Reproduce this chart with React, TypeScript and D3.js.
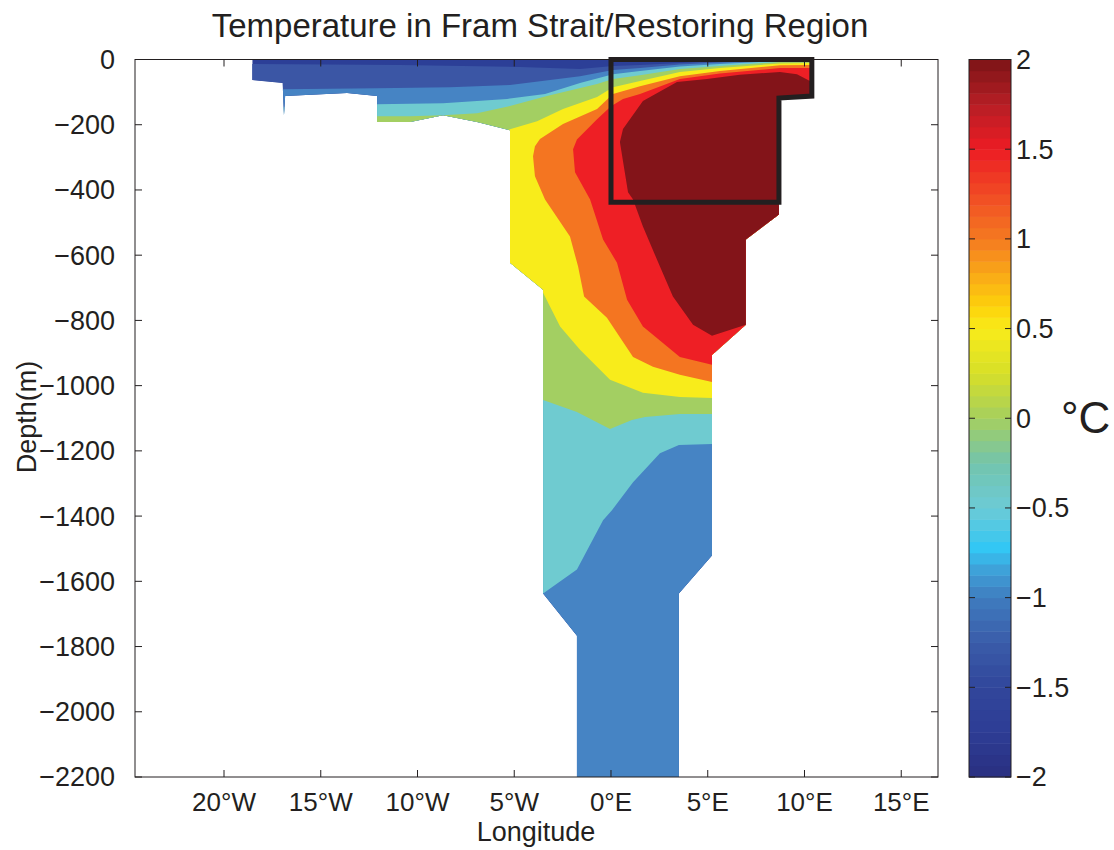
import React from 'react';
import * as d3 from 'd3';

type Pt = [number, number];

// axes
const lonDomain = [-24.6, 16.9];
const depthDomain = [0, -2200];
const lonTicks = [-20, -15, -10, -5, 0, 5, 10, 15];
const lonTickLabels = ['20°W', '15°W', '10°W', '5°W', '0°E', '5°E', '10°E', '15°E'];
const depthTicks = [0, -200, -400, -600, -800, -1000, -1200, -1400, -1600, -1800, -2000, -2200];

// colorbar
const cbarTicks = [2, 1.5, 1, 0.5, 0, -0.5, -1, -1.5, -2];
const cbarStops = [-2, -1.75, -1.5, -1.25, -1, -0.85, -0.72, -0.5, -0.25, 0, 0.25, 0.5, 0.62, 0.75, 1, 1.25, 1.5, 1.75, 2];
const cbarColors = ['#292f80', '#2d3d95', '#31469b', '#3a5ca9', '#3f7cbf', '#3fa0d8', '#33c7f4', '#6ccbd6', '#73c4ad', '#a5cf5f',
  '#d7df28', '#f8ec1a', '#fdd20a', '#fbb515', '#f47a20', '#f04a24', '#ed1c24', '#b61e25', '#7c1416'];

// filled contour bands: below -1.5, then regions above each level
const bandColors = ['#2c3f97', '#3b56a5', '#4684c4', '#6fcbd0', '#a3cf62', '#f8ec1b', '#f47521', '#ee1f25', '#831419'];

// ocean section (lon, depth)
const ocean: Pt[] = [[-18.54, 0], [10.33, 0], [10.33, -112], [8.68, -118], [8.68, -475], [6.97, -552], [6.97, -813], [5.22, -906],
  [5.22, -1521], [3.51, -1637], [3.51, -2200], [-1.76, -2200], [-1.76, -1767], [-3.51, -1637], [-3.51, -706], [-5.22, -623],
  [-5.22, -217], [-6.92, -192], [-8.68, -171], [-10.38, -192], [-12.09, -192], [-12.09, -112], [-13.64, -103], [-16.84, -112],
  [-16.9, -170], [-16.97, -72], [-18.54, -63]];

const aboveM15: Pt[] = [[-19.7, -14], [-18.54, -14], [-10.9, -17], [-4.7, -23], [-1.6, -29], [0.1, -20], [1.5, -17], [3.56, -11],
  [5.63, -4.6], [8.73, -1.5], [10.33, -1.5], [11.3, -1], [11.3, -2300], [-19.7, -2300]];

const aboveM1: Pt[] = [[-19.2, -106], [-16.94, -91], [-12.09, -88], [-8.32, -85], [-5.22, -78], [-1.6, -51], [0.1, -32], [1.5, -26],
  [3.56, -15], [5.63, -9], [8.73, -3], [10.33, -2.2], [11.3, -2.2], [11.3, -2300], [-19.2, -2300]];

const aboveM05: Pt[] = [[-19.2, -152], [-16.94, -146], [-12.09, -137], [-8.68, -134], [-5.37, -121], [-3.41, -106], [-1.6, -72],
  [0.1, -45], [1.5, -35], [3.56, -21.5], [5.63, -14], [8.73, -4.6], [10.33, -4.6], [11.3, -4.6], [11.3, -1179], [5.22, -1179],
  [3.51, -1182], [2.53, -1207], [1.14, -1296], [0.05, -1382], [-0.41, -1413], [-1.76, -1564], [-3.51, -1637], [-5.73, -1637],
  [-5.73, -245], [-19.2, -245]];

const above0: Pt[] = [[-12.96, -174], [-10.38, -174], [-8.68, -171], [-6.92, -165], [-5.27, -143], [-3.31, -112], [-0.72, -75],
  [0.1, -60], [1.5, -48], [3.56, -29], [5.63, -20], [8.73, -7.7], [10.33, -7.7], [11.3, -7.7], [11.3, -1087], [5.22, -1087],
  [3.56, -1087], [1.76, -1096], [1.08, -1105], [-0.05, -1133], [-1.76, -1081], [-3.51, -1044], [-5.73, -1044], [-5.73, -245],
  [-12.96, -245]];

const above05: Pt[] = [[-5.73, -229], [-5.22, -214], [-3.82, -189], [-2.48, -152], [-0.72, -115], [0.1, -85], [1.5, -66],
  [3.56, -38], [5.63, -26], [8.73, -12.3], [10.33, -10.8], [11.3, -10.8], [11.3, -1038], [5.22, -1038], [3.56, -1035],
  [1.65, -1022], [-0.05, -982], [-1.6, -890], [-2.63, -819], [-3.51, -715], [-5.73, -644]];

const above1: Pt[] = [[-3.93, -266], [-3.67, -244], [-2.48, -198], [-0.72, -152], [0.1, -106], [1.5, -82], [3.56, -51], [5.63, -35],
  [8.73, -18], [10.33, -17], [11.3, -17], [11.3, -989], [5.22, -989], [3.56, -967], [2.17, -942], [1.14, -912], [-0.21, -792],
  [-1.39, -727], [-1.7, -635], [-2.12, -543], [-3.41, -429], [-3.93, -358], [-4.03, -297]];

const above15: Pt[] = [[-1.96, -275], [-1.76, -245], [-0.72, -183], [0, -143], [0.62, -121], [1.5, -106], [3.56, -60], [5.63, -43],
  [8.73, -26], [10.33, -26], [11.3, -26], [11.3, -936], [5.22, -936], [3.56, -912], [1.65, -819], [0.83, -737], [0.31, -623],
  [-0.41, -552], [-1.08, -429], [-1.86, -346]];

const above2: Pt[] = [[0.46, -253], [0.62, -213], [1.65, -127], [3.41, -69], [4.96, -60], [6.66, -47], [8.73, -38], [9.61, -45],
  [10.28, -66], [11.3, -91], [11.3, -830], [6.97, -813], [5.22, -847], [4.24, -813], [3.2, -727], [2.53, -635], [1.65, -512],
  [1.14, -429], [0.88, -407]];

// restoring region outline
const restoringBox: Pt[] = [[0, 0], [10.38, 0], [10.38, -112], [8.68, -118], [8.68, -438], [0, -438]];

const W = 1114;
const H = 850;
const left = 135, right = 938, top = 59.5, bottom = 777;
const cbLeft = 969, cbRight = 1011;
const font = "'Liberation Sans', Arial, Helvetica, sans-serif";
const ink = '#231f20';

export default function App() {
  const x = d3.scaleLinear().domain(lonDomain).range([left, right]);
  const y = d3.scaleLinear().domain(depthDomain).range([top, bottom]);
  const cy = d3.scaleLinear().domain([-2, 2]).range([bottom, top]);
  const cmap = d3.scaleLinear<string>().domain(cbarStops).range(cbarColors).interpolate(d3.interpolateRgb);
  const line = d3.line<Pt>().x(d => x(d[0])).y(d => y(d[1]));
  const poly = (p: Pt[]) => line(p) + 'Z';

  const regions = [ocean, aboveM15, aboveM1, aboveM05, above0, above05, above1, above15, above2];
  const steps = d3.range(64).map(i => -2 + (i * 4) / 64);
  const tk = 7;

  return (
    <svg width={W} height={H} style={{ position: 'absolute', left: 0, top: 0, background: '#fff' }}
      fontFamily={font} fill={ink}>
      <defs>
        <clipPath id="ocean">
          <path d={poly(ocean)} />
        </clipPath>
      </defs>

      <text x={540} y={37} fontSize={33} textAnchor="middle">Temperature in Fram Strait/Restoring Region</text>

      <g clipPath="url(#ocean)">
        {regions.map((r, i) => (
          <path key={i} d={poly(r)} fill={bandColors[i]} />
        ))}
      </g>

      <path d={poly(restoringBox)} fill="none" stroke={ink} strokeWidth={5} strokeLinejoin="miter" />

      {/* axes frame and ticks */}
      <rect x={left} y={top} width={right - left} height={bottom - top} fill="none" stroke={ink} strokeWidth={1} />
      {lonTicks.map((t, i) => (
        <g key={'x' + t}>
          <line x1={x(t)} x2={x(t)} y1={bottom} y2={bottom - tk} stroke={ink} />
          <line x1={x(t)} x2={x(t)} y1={top} y2={top + tk} stroke={ink} />
          <text x={x(t)} y={811} fontSize={26} textAnchor="middle">{lonTickLabels[i]}</text>
        </g>
      ))}
      {depthTicks.map(t => (
        <g key={'y' + t}>
          <line x1={left} x2={left + tk} y1={y(t)} y2={y(t)} stroke={ink} />
          <line x1={right} x2={right - tk} y1={y(t)} y2={y(t)} stroke={ink} />
          <text x={115} y={y(t)} dy="0.35em" fontSize={27} textAnchor="end">
            {t === 0 ? '0' : '\u2212' + Math.abs(t)}
          </text>
        </g>
      ))}
      <text x={536} y={841} fontSize={27} textAnchor="middle">Longitude</text>
      <text transform={`translate(36,417) rotate(-90)`} fontSize={27} textAnchor="middle">Depth(m)</text>

      {/* colorbar */}
      {steps.map(v => (
        <rect key={v} x={cbLeft} width={cbRight - cbLeft} y={cy(v + 4 / 64)} height={cy(v) - cy(v + 4 / 64) + 0.5}
          fill={cmap(v + 2 / 64)} />
      ))}
      <rect x={cbLeft} y={top} width={cbRight - cbLeft} height={bottom - top} fill="none" stroke={ink} strokeWidth={1} />
      {cbarTicks.map(t => (
        <g key={'c' + t}>
          <line x1={cbLeft} x2={cbLeft + 6} y1={cy(t)} y2={cy(t)} stroke={ink} />
          <line x1={cbRight} x2={cbRight - 6} y1={cy(t)} y2={cy(t)} stroke={ink} />
          <text x={1016} y={cy(t)} dy="0.35em" fontSize={27}>{t < 0 ? '\u2212' + Math.abs(t) : String(t)}</text>
        </g>
      ))}
      <text x={1061} y={433} fontSize={44}>°C</text>
    </svg>
  );
}
